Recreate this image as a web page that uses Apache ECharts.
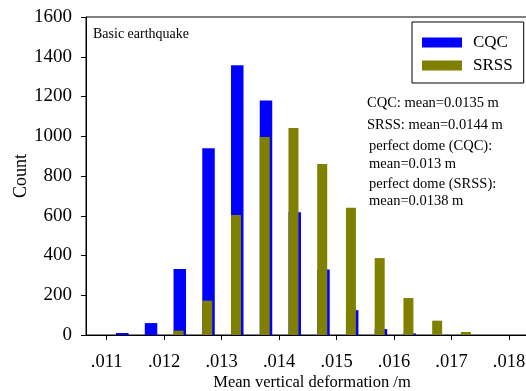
<!DOCTYPE html>
<html>
<head>
<meta charset="utf-8">
<script src="https://cdn.jsdelivr.net/npm/echarts@6/dist/echarts.min.js"></script>
<style>
html,body{margin:0;padding:0;background:#fff;}
#chart{width:526px;height:391px;}
</style>
</head>
<body>
<div id="chart"></div>
<script>
// Histogram bin centres (mean vertical deformation, m)
var bins = [0.01125, 0.01175, 0.01225, 0.01275, 0.01325, 0.01375, 0.01425, 0.01475, 0.01525, 0.01575, 0.01625, 0.01675, 0.01725];
// Counts per bin
var cqcCounts  = [10, 60, 332, 940, 1357, 1180, 618, 330, 125, 30, 8, 0, 0];
var srssCounts = [0, 0, 22, 173, 604, 996, 1041, 860, 640, 387, 186, 72, 15];
// Axis tick labels
var xTicks = [0.011, 0.012, 0.013, 0.014, 0.015, 0.016, 0.017, 0.018];
var seriesNames = ['CQC', 'SRSS'];
var noteLines = [
  'CQC: mean=0.0135 m',
  'SRSS: mean=0.0144 m',
  'perfect dome (CQC):',
  'mean=0.013 m',
  'perfect dome (SRSS):',
  'mean=0.0138 m'
];
var panelTitle = 'Basic earthquake';

var FONT = "'Liberation Serif', 'Times New Roman', serif";

function pairs(xs, ys) {
  return xs.map(function (x, i) { return [x, ys[i]]; });
}

var notePos = [[367, 104], [367, 126], [369, 147], [369, 164.5], [369, 185], [369, 202]];
var graphics = noteLines.map(function (t, i) {
  return {
    type: 'text', left: notePos[i][0], top: notePos[i][1] - 8,
    style: { text: t, fill: '#000', font: '14.5px ' + FONT }
  };
});
graphics.push({
  type: 'text', left: 93, top: 27,
  style: { text: panelTitle, fill: '#000', font: '14px ' + FONT }
});

var chart = echarts.init(document.getElementById('chart'), null, { renderer: 'canvas' });
chart.setOption({
  animation: false,
  backgroundColor: '#fff',
  grid: {
    left: 86, right: -1, top: 17, bottom: 56,
    containLabel: false, outerBoundsMode: 'none',
    show: true, borderColor: '#000', borderWidth: 1, backgroundColor: 'transparent'
  },
  legend: {
    data: seriesNames,
    orient: 'vertical',
    left: 412, top: 22,
    padding: [12, 11, 9, 10],
    itemWidth: 40, itemHeight: 10, itemGap: 6,
    borderColor: '#000', borderWidth: 1,
    icon: 'rect',
    textStyle: { fontFamily: FONT, fontSize: 17, color: '#000', padding: [0, 0, 0, 6] }
  },
  xAxis: {
    type: 'value',
    min: 0.01064, max: 0.018313,
    name: 'Mean vertical deformation /m',
    nameLocation: 'middle', nameGap: 39, nameMoveOverlap: false,
    nameTextStyle: { fontFamily: FONT, fontSize: 16.5, color: '#000', padding: [0, 0, 0, 11] },
    axisLine: { show: true, lineStyle: { color: '#000', width: 1 } },
    axisTick: { show: true, inside: false, length: 5, customValues: xTicks, lineStyle: { color: '#000' } },
    axisLabel: {
      customValues: xTicks, margin: 18,
      fontFamily: FONT, fontSize: 18.5, color: '#000',
      formatter: function (v) { return v.toFixed(3).replace(/^0/, ''); }
    },
    splitLine: { show: false }
  },
  yAxis: {
    type: 'value',
    min: 0, max: 1600, interval: 200,
    name: 'Count',
    nameLocation: 'middle', nameGap: 56, nameRotate: 90, nameMoveOverlap: false,
    nameTextStyle: { fontFamily: FONT, fontSize: 18, color: '#000' },
    axisLine: { show: true, lineStyle: { color: '#000', width: 1 } },
    axisTick: { show: true, inside: false, length: 5, lineStyle: { color: '#000' } },
    axisLabel: {
      margin: 14, fontFamily: FONT, fontSize: 19, color: '#000',
      formatter: function (v) { return String(v); }
    },
    splitLine: { show: false }
  },
  series: [
    {
      name: seriesNames[0], type: 'bar',
      data: pairs(bins, cqcCounts),
      barWidth: 12.5, barGap: '-100%',
      itemStyle: { color: '#0000ff' }
    },
    {
      name: seriesNames[1], type: 'bar',
      data: pairs(bins, srssCounts),
      barWidth: 10, barGap: '-100%',
      itemStyle: { color: '#808000' }
    }
  ],
  graphic: graphics
});
</script>
</body>
</html>
